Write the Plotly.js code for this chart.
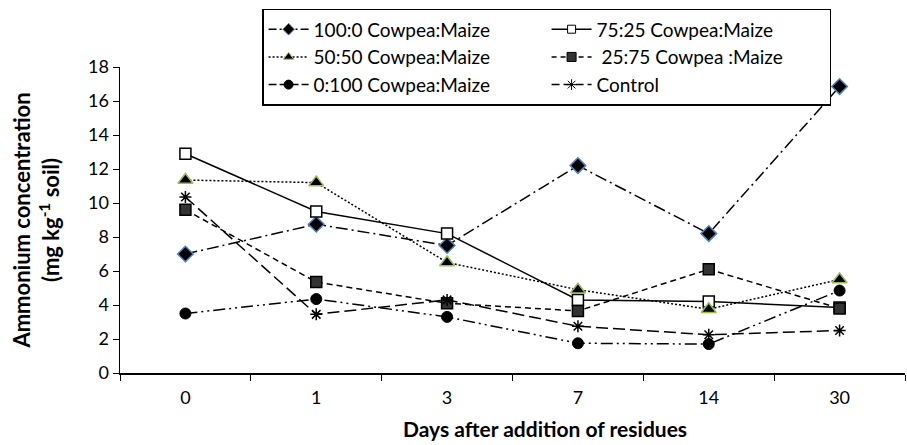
<!DOCTYPE html>
<html>
<head>
<meta charset="utf-8">
<script src="https://cdn.plot.ly/plotly-3.0.1.min.js"></script>
<style>html,body{margin:0;padding:0;background:#fff;}#chart{width:907px;height:445px;}</style>
</head>
<body>
<div id="chart"></div>
<script>
const days = ["0", "1", "3", "7", "14", "30"];
const seriesNames = ["100:0 Cowpea:Maize", "75:25 Cowpea:Maize", "50:50 Cowpea:Maize", " 25:75 Cowpea :Maize", "0:100 Cowpea:Maize", "Control"];
const cm100_0 = [7.0, 8.75, 7.5, 12.2, 8.2, 16.85];
const cm75_25 = [12.9, 9.5, 8.2, 4.3, 4.2, 3.85];
const cm50_50 = [11.35, 11.2, 6.5, 4.9, 3.75, 5.5];
const cm25_75 = [9.6, 5.35, 4.1, 3.65, 6.1, 3.8];
const cm0_100 = [3.5, 4.35, 3.3, 1.75, 1.7, 4.85];
const control = [10.35, 3.45, 4.3, 2.75, 2.25, 2.5];
const yTicks = [0, 2, 4, 6, 8, 10, 12, 14, 16, 18];
const xTitle = "Days after addition of residues";
const yTitle = "Ammonium concentration<br>(mg kg<sup>-1</sup> soil)";

const FONT = "Lato, 'Open Sans', sans-serif";

const styles = [
  {dash: "12px,4px,2px,4px", marker: {symbol: "diamond", size: 12, color: "#000", line: {color: "#4f81bd", width: 1.5}}, lsize: 9},
  {dash: "solid", marker: {symbol: "square", size: 11, color: "#fff", line: {color: "#000", width: 1.5}}, lsize: 8},
  {dash: "2px,2px", marker: {symbol: "triangle-up", size: 13, color: "#000", line: {color: "#9bbb59", width: 1.5}}, lsize: 9},
  {dash: "6px,4px", marker: {symbol: "square", size: 11, color: "#333", line: {color: "#000", width: 1.5}}, lsize: 9},
  {dash: "12px,4px,2px,4px,2px,4px", marker: {symbol: "circle", size: 11, color: "#000", line: {color: "#000", width: 1}}, lsize: 9},
  {dash: "12px,5px", marker: {symbol: "asterisk-open", size: 10, color: "#000", line: {color: "#000", width: 1.5}}, lsize: 9}
];
const values = [cm100_0, cm75_25, cm50_50, cm25_75, cm0_100, control];
const legendDash = ["8px,3px,2px,3px", "solid", "2px,2px", "5px,4px", "8px,3px", "8px,4px"];

const data = [];
values.forEach((v, i) => {
  const s = styles[i];
  data.push({
    type: "scatter", mode: "lines+markers", name: seriesNames[i], x: days, y: v,
    line: {color: "#000", width: 1.5, dash: s.dash},
    marker: s.marker, cliponaxis: false, showlegend: false
  });
});
// legend entries (smaller symbols like the reference key)
values.forEach((v, i) => {
  const s = styles[i];
  data.push({
    type: "scatter", mode: "lines+markers", name: seriesNames[i], x: [null], y: [null],
    line: {color: "#000", width: 1.5, dash: legendDash[i]},
    marker: Object.assign({}, s.marker, {size: s.lsize, line: {color: s.marker.line.color, width: 1}}),
    showlegend: true, hoverinfo: "skip"
  });
});

const layout = {
  width: 907, height: 445,
  margin: {l: 120, r: 2, t: 67, b: 72, autoexpand: false},
  paper_bgcolor: "#fff", plot_bgcolor: "#fff",
  font: {family: FONT, size: 18, color: "#000"},
  showlegend: true,
  legend: {
    orientation: "h", x: 0.181, xanchor: "left", y: 1.19, yanchor: "top",
    bordercolor: "#000", borderwidth: 1.5, bgcolor: "#fff",
    entrywidth: 228, entrywidthmode: "pixels",
    font: {family: FONT, size: 19, color: "#000"},
    tracegroupgap: 0, itemwidth: 40
  },
  xaxis: {
    type: "category", range: [-0.5, 5.5],
    tickvals: days, ticktext: days,
    tickson: "boundaries", ticks: "outside", ticklen: 6, tickcolor: "#000", tickwidth: 1,
    ticklabelstandoff: 8,
    showline: true, linecolor: "#000", linewidth: 1.5,
    showgrid: false, zeroline: false,
    tickfont: {family: FONT, size: 18}
  },
  yaxis: {
    range: [0, 18], tickvals: yTicks,
    ticks: "outside", ticklen: 6, tickcolor: "#000", tickwidth: 1,
    showline: true, linecolor: "#000", linewidth: 1.5,
    showgrid: false, zeroline: false,
    tickfont: {family: FONT, size: 18},
    title: {text: "<b>" + yTitle + "</b>", font: {family: FONT, size: 22}, standoff: 22}
  },
  annotations: [{
    text: "<b>" + xTitle + "</b>", xref: "paper", yref: "paper",
    x: 0.541, y: -0.183, xanchor: "center", yanchor: "middle", showarrow: false,
    font: {family: FONT, size: 21, color: "#000"}
  }]
};

Plotly.newPlot("chart", data, layout, {staticPlot: true, displayModeBar: false});
</script>
</body>
</html>
